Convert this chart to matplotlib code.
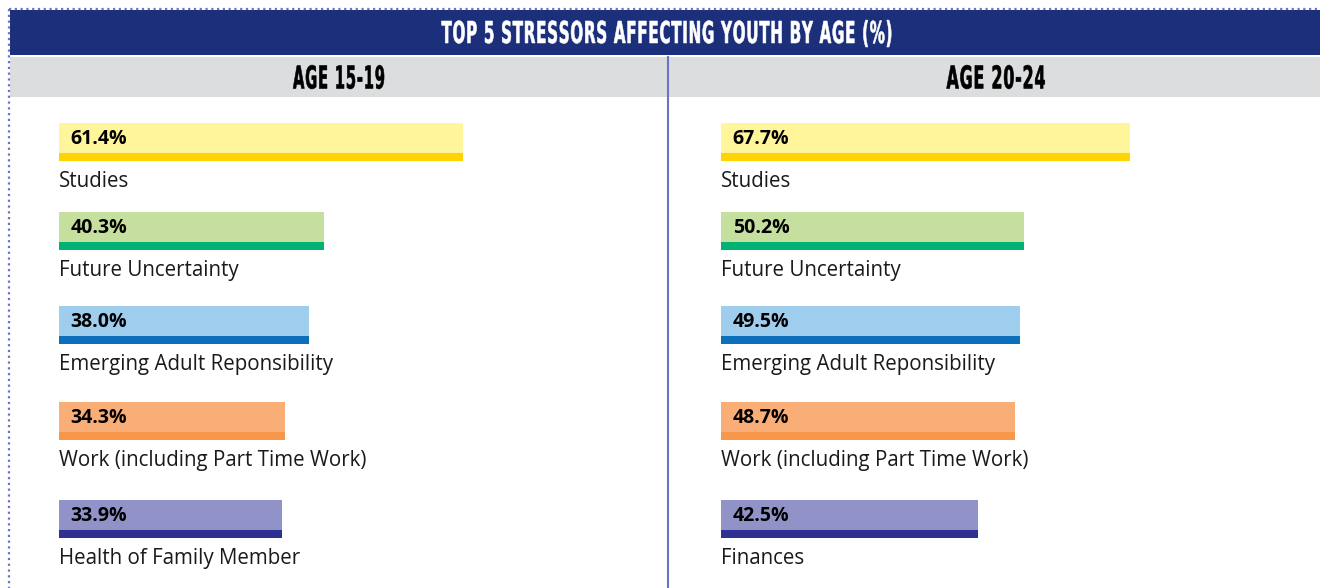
import matplotlib
matplotlib.use('Agg')
import matplotlib.pyplot as plt
from matplotlib.textpath import TextPath, text_to_path
from matplotlib.font_manager import FontProperties
from matplotlib.patches import PathPatch
from matplotlib.path import Path
from matplotlib.transforms import Affine2D

# Dati
title = 'TOP 5 STRESSORS AFFECTING YOUTH BY AGE (%)'
panel_titles = ['AGE 15-19', 'AGE 20-24']
categories_1519 = ['Studies', 'Future Uncertainty', 'Emerging Adult Reponsibility',
                   'Work (including Part Time Work)', 'Health of Family Member']
values_1519 = [61.4, 40.3, 38.0, 34.3, 33.9]
categories_2024 = ['Studies', 'Future Uncertainty', 'Emerging Adult Reponsibility',
                   'Work (including Part Time Work)', 'Finances']
values_2024 = [67.7, 50.2, 49.5, 48.7, 42.5]

# Colori (chiaro sopra, scuro sotto)
light_colors = ['#fff69b', '#c5df9f', '#9fcdee', '#f9ae78', '#9193c8']
dark_colors = ['#ffd400', '#00b274', '#0b70b9', '#f6974a', '#2e3191']
navy = '#1b2f7b'
grey = '#dcdddf'
frame_blue = '#6a74c4'

label_font = 'Open Sans'

# Layout: bordo superiore di ogni barra (pixel)
row_top = [123, 212, 306, 402, 500]

W, H = 1320, 588
fig = plt.figure(figsize=(W / 100, H / 100), dpi=100)

# Asse di sfondo in pixel per intestazioni e cornice
bg = fig.add_axes([0, 0, 1, 1])
bg.set_xlim(0, W)
bg.set_ylim(H, 0)
bg.axis('off')
bg.add_patch(plt.Rectangle((10, 10), W - 10, 45, color=navy, lw=0))
bg.add_patch(plt.Rectangle((10, 57), W - 10, 40, color=grey, lw=0))
bg.plot([9, W], [9, 9], color=frame_blue, lw=1.6, ls=(0, (1, 1.6)))
bg.plot([9, 9], [9, H], color=frame_blue, lw=1.6, ls=(0, (1, 1.6)))
bg.plot([668, 668], [57, H], color=frame_blue, lw=1.5)


def condensed_text(ax, x, y, s, cap_px, width_px, track, color):
    # testo stretto (tipo font condensato) con spaziatura tra lettere
    size = cap_px / 0.729
    prop = FontProperties(family='DejaVu Sans', weight='bold', size=size)
    adv = [text_to_path.get_text_width_height_descent(ch, prop, ismath=False)[0] for ch in s]
    sx = (width_px - track * (len(s) - 1)) / sum(adv)
    parts = []
    pen = 0
    for ch, a in zip(s, adv):
        if ch != ' ':
            tp = TextPath((0, 0), ch, size=size, prop=prop)
            tr = Affine2D().scale(sx, -1).translate(pen, cap_px / 2)
            parts.append(tr.transform_path(tp))
        pen += a * sx + track
    total = pen - track
    path = Path.make_compound_path(*parts)
    path = Affine2D().translate(x - total / 2, y).transform_path(path)
    ax.add_patch(PathPatch(path, facecolor=color, edgecolor=color, lw=0.4))


condensed_text(bg, 667, 32, title, 22, 451, 0.7, 'white')
condensed_text(bg, 339, 77, panel_titles[0], 23, 92, 0.8, 'black')
condensed_text(bg, 996, 77, panel_titles[1], 23, 99, 0.8, 'black')


def draw_panel(left_px, width_px, xmax, cats, vals):
    ax = fig.add_axes([left_px / W, 0, width_px / W, 1])
    ax.set_xlim(0, xmax)
    ax.set_ylim(H, 0)
    ax.axis('off')
    ax.barh([t + 15 for t in row_top], vals, height=30, color=light_colors, lw=0)
    ax.barh([t + 34 for t in row_top], vals, height=8, color=dark_colors, lw=0)
    for t, v, c in zip(row_top, vals, cats):
        ax.annotate('{:.1f}%'.format(v), xy=(0, t + 16), xytext=(8.5, 0),
                    textcoords='offset points', fontsize=14, fontweight='bold',
                    family=label_font, ha='left', va='center', color='black')
        ax.annotate(c, xy=(0, t + 64), fontsize=14.8, family=label_font,
                    ha='left', va='baseline', color='#1a1a1a')


draw_panel(59, 600, 91.2, categories_1519, values_1519)
draw_panel(721, 599, 99.15, categories_2024, values_2024)

plt.savefig('out.png', dpi=100)
